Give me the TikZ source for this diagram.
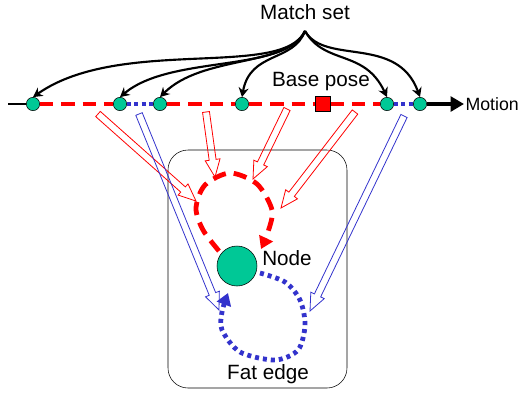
\documentclass[tikz,border=0pt]{standalone}
\usepackage{fontspec}
\setmainfont{Liberation Sans}
\usetikzlibrary{calc,arrows.meta,scopes}
\definecolor{posegreen}{RGB}{0,200,150}
\definecolor{edgeblue}{RGB}{51,51,204}

% hollow block arrow from #2 to #3
\newcommand{\hollowarrow}[3]{%
  \draw[#1] ($(#2)!2.6pt!90:(#3)$)
    -- ($(#3)!13pt!(#2)!2.6pt!-90:(#2)$)
    -- ($(#3)!13pt!(#2)!5.6pt!-90:(#2)$)
    -- (#3)
    -- ($(#3)!13pt!(#2)!5.6pt!90:(#2)$)
    -- ($(#3)!13pt!(#2)!2.6pt!90:(#2)$)
    -- ($(#2)!2.6pt!-90:(#3)$) -- cycle;}

\begin{document}
\begin{tikzpicture}[
    x=0.75pt, y=-0.75pt,
    txt/.style={font=\fontsize{15.5}{18}\selectfont},
    pose/.style={circle,draw=black,fill=posegreen,minimum size=10pt,inner sep=0pt,thin},
    basepose/.style={rectangle,draw=black,fill=red,minimum size=11pt,inner sep=0pt,thin},
    graphnode/.style={circle,draw=black,fill=posegreen,minimum size=30pt,inner sep=0pt,thin},
    match/.style={-{Stealth[length=7pt,width=7.5pt]},line width=1.6pt},
    redtraj/.style={red,line width=2.6pt,dash pattern=on 10pt off 6pt},
    bluetraj/.style={edgeblue,line width=2.6pt,dash pattern=on 3pt off 2.5pt},
    redfat/.style={draw=red,line width=0.6pt},
    bluefat/.style={draw=edgeblue,line width=0.6pt},
]
    \useasboundingbox (0,0) rectangle (521,394);

    %%%
    % Motion with the match set
    \node[pose] (c1) at (33,104) {};
    \node[pose] (c2) at (120,104) {};
    \node[pose] (c3) at (160,104) {};
    \node[pose] (c4) at (242,104) {};
    \node[basepose] (base) at (323,104) {};
    \node[pose] (c5) at (387,104) {};
    \node[pose] (c6) at (420,104) {};
    \coordinate (lstart) at (8,104);
    \node[txt,font=\fontsize{13.3}{16}\selectfont,anchor=west,inner sep=1pt] (motion) at (464,104) {Motion};
    \node[txt] (basetxt) at (321,82) {Base pose};
    \node[txt] (matchtxt) at (305,12) {Match set};
    \coordinate (msroot) at (305,31);

    \draw[line width=1.5pt] (lstart) -- (c1);
    {[redtraj]
        \draw (c1) -- (c2);
        \draw (c3) -- (c4);
        \draw (c4) -- (base);
        \draw (base) -- (c5);
    }
    {[bluetraj]
        \draw (c2) -- (c3);
        \draw (c5) -- (c6);
    }
    \draw[line width=2.8pt,-{Triangle[length=10pt,width=11pt]}] (c6) -- (motion.west);

    {[match]
        \draw (msroot) to[out=245,in=35,out distance=40,in distance=80] (c1.north);
        \draw (msroot) to[out=245,in=40,out distance=35,in distance=50] (c2.north);
        \draw (msroot) to[out=245,in=45,out distance=30,in distance=45] (c3.north);
        \draw (msroot) to[out=250,in=80,out distance=25,in distance=35] (c4.north);
        \draw (msroot) to[out=-60,in=115,out distance=30,in distance=40] (c5.north);
        \draw (msroot) to[out=-60,in=110,out distance=30,in distance=50] (c6.north);
    }

    %%%
    % Graph node with its self loops
    \draw[thin,rounded corners=15pt] (168,150) rectangle (347,388);
    \node[graphnode] (nd) at (237,266) {};
    \node[txt,anchor=west,inner sep=0pt] (ndtxt) at (262,258) {Node};
    \node[txt] (fattxt) at (268,374) {Fat edge};

    \draw[red,line width=3.6pt,dash pattern=on 10pt off 6pt,-{Triangle[length=9pt,width=11pt]}]
        plot[smooth] coordinates {(219,251) (203,230) (196,208) (205,185) (230,173)
            (257,184) (272,210) (268,232) (261,249)};
    \draw[edgeblue,line width=3.6pt,dash pattern=on 3pt off 3pt,-{Triangle[length=9pt,width=11pt]}]
        plot[smooth] coordinates {(260,273) (285,282) (300,300) (305,325) (298,350)
            (275,360) (240,352) (222,330) (222,312) (228,293)};

    %%%
    % Block arrows from the motion to the loops
    \coordinate (r1a) at (98,114);   \coordinate (r1b) at (196,201);
    \coordinate (r2a) at (206,112);  \coordinate (r2b) at (215,177);
    \coordinate (r3a) at (287,109);  \coordinate (r3b) at (253,179);
    \coordinate (r4a) at (355,112);  \coordinate (r4b) at (281,208);
    \coordinate (b1a) at (139,114);  \coordinate (b1b) at (219,310);
    \coordinate (b2a) at (404,116);  \coordinate (b2b) at (310,311);
    \hollowarrow{redfat}{r1a}{r1b}
    \hollowarrow{redfat}{r2a}{r2b}
    \hollowarrow{redfat}{r3a}{r3b}
    \hollowarrow{redfat}{r4a}{r4b}
    \hollowarrow{bluefat}{b1a}{b1b}
    \hollowarrow{bluefat}{b2a}{b2b}

\end{tikzpicture}
\end{document}
